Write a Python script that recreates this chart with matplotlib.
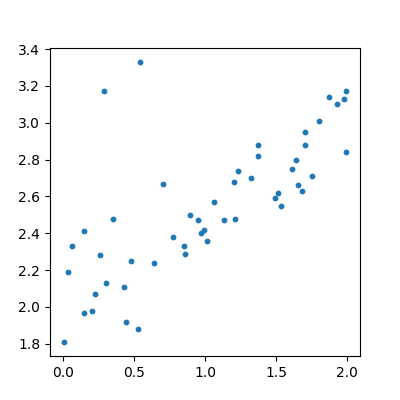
import matplotlib
matplotlib.use("Agg")
import matplotlib.pyplot as plt

x = [0.007,0.035,0.063,0.148,0.148,0.20,0.225,0.26,0.29,0.30,0.35,0.43,0.44,0.48,0.53,0.54,0.64,0.70,0.77,0.85,0.86,0.89,0.95,0.97,0.99,1.01,1.06,1.13,1.20,1.21,1.23,1.32,1.37,1.37,1.49,1.51,1.53,1.61,1.64,1.65,1.68,1.70,1.70,1.75,1.80,1.87,1.93,1.98,1.99,1.99]
y = [1.81,2.19,2.33,2.41,1.97,1.98,2.07,2.28,3.17,2.13,2.48,2.11,1.92,2.25,1.88,3.33,2.24,2.67,2.38,2.33,2.29,2.50,2.47,2.40,2.42,2.36,2.57,2.47,2.68,2.48,2.74,2.70,2.88,2.82,2.59,2.62,2.55,2.75,2.80,2.66,2.63,2.95,2.88,2.71,3.01,3.14,3.10,3.13,3.17,2.84]

fig, ax = plt.subplots(figsize=(4, 4), dpi=100)
ax.scatter(x, y, s=10)
fig.savefig("out.png")
